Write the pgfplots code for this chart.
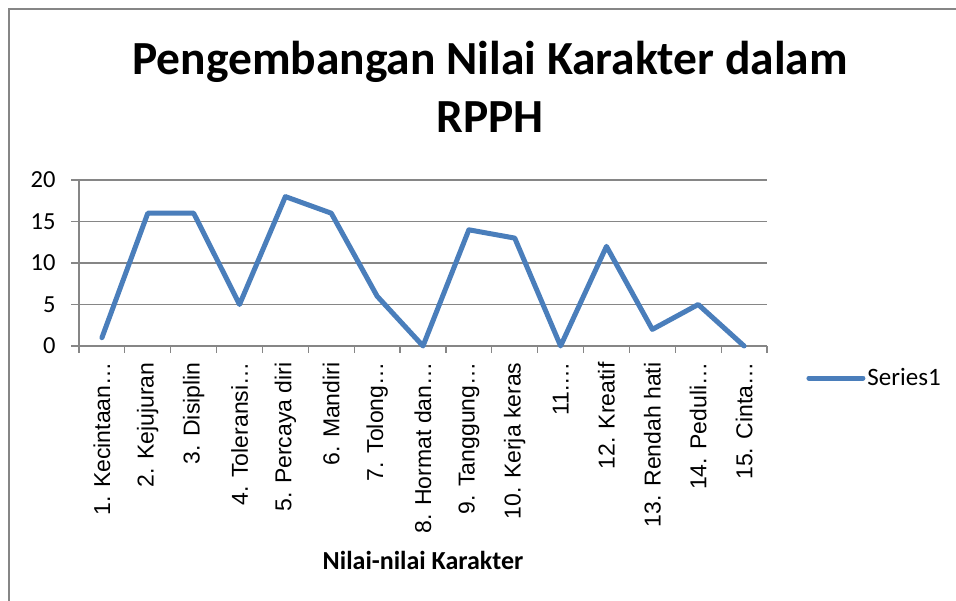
\documentclass[border=0pt]{standalone}
\usepackage{pgfplots}
\pgfplotsset{compat=1.18}
\usepackage{fontspec}
\setmainfont{Carlito}
\newfontfamily\arialfont{Liberation Sans}
\definecolor{serblue}{HTML}{4A7EBB}
\definecolor{gridgray}{HTML}{868686}
\begin{document}
\begin{tikzpicture}[x=1pt,y=1pt]
\path[use as bounding box] (0,0) rectangle (956,601);
\fill[white] (0,0) rectangle (956,601);
\draw[gridgray, line width=1.5pt] (9,0) -- (9,592) -- (956,592);
\begin{axis}[
  at={(79pt,255pt)}, anchor=south west,
  scale only axis, width=688pt, height=166pt,
  xmin=0.5, xmax=15.5, ymin=0, ymax=20,
  axis lines*=left,
  axis line style={gridgray, line width=1.5pt},
  xtick={1,...,15},
  minor xtick={0.5,1.5,...,15.5},
  major x tick style={draw=none},
  minor x tick style={gridgray, line width=1.2pt},
  minor tick length=7pt,
  major tick length=8pt,
  tick align=outside,
  ytick={0,5,10,15,20},
  y tick style={gridgray, line width=1.2pt},
  ymajorgrids,
  major grid style={gridgray, line width=1.5pt},
  xticklabels={1. Kecintaan…,2. Kejujuran,3. Disiplin,4. Toleransi…,5. Percaya diri,6. Mandiri,7. Tolong…,8. Hormat dan…,9. Tanggung…,10. Kerja keras,11.…,12. Kreatif,13. Rendah hati,14. Peduli…,15. Cinta…},
  xticklabel style={rotate=90, anchor=east, font=\arialfont\fontsize{23}{26}\selectfont},
  xticklabel shift=5pt,
  yticklabel style={font=\fontsize{24.5}{27}\selectfont, xshift=-12pt},
  /pgf/number format/assume math mode=true,
  xlabel={Nilai-nilai Karakter},
  xlabel style={at={(axis description cs:0.5,0)}, anchor=center, yshift=-214pt, font=\bfseries\fontsize{26}{30}\selectfont},
  title={Pengembangan Nilai Karakter dalam\\RPPH},
  title style={at={(axis description cs:0.5,1)}, anchor=south, align=center, xshift=67pt, yshift=38pt, font=\bfseries\fontsize{47.5}{58}\selectfont},
  legend style={at={(axis description cs:1.057,-0.193)}, anchor=west, draw=none, fill=none, font=\fontsize{25}{29}\selectfont, inner sep=0pt, legend cell align=left},
  legend image code/.code={\draw[#1] (0pt,0pt) -- (54pt,0pt);},
  clip=false,
]
\addplot[serblue, line width=5pt, line join=round, line cap=round] coordinates {
(1,1) (2,16) (3,16) (4,5) (5,18) (6,16) (7,6) (8,0) (9,14) (10,13) (11,0) (12,12) (13,2) (14,5) (15,0)};
\addlegendentry{Series1}
\end{axis}
\end{tikzpicture}
\end{document}
